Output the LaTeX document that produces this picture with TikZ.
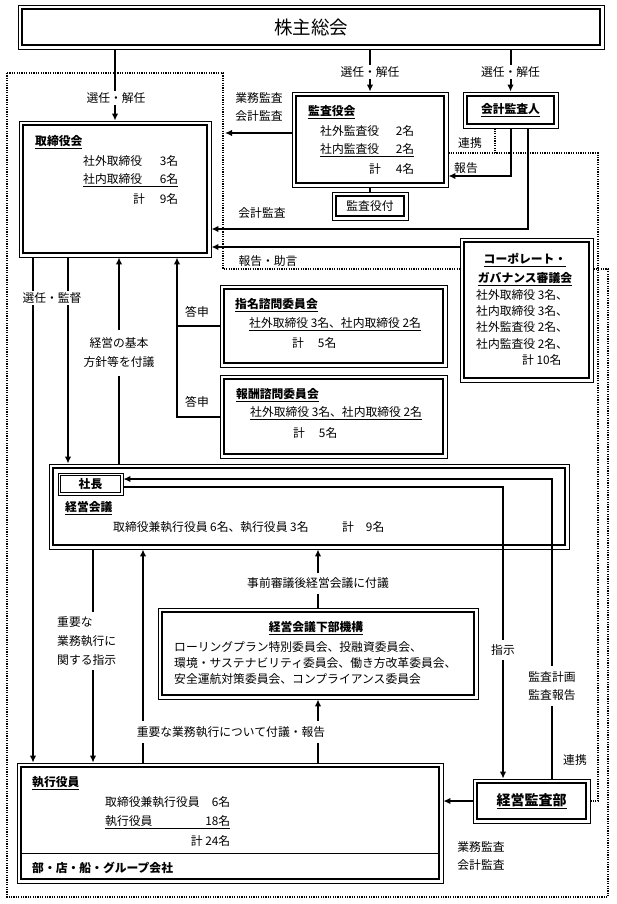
\documentclass[tikz,border=0pt]{standalone}
\usepackage{fontspec}
\setmainfont{Noto Sans CJK JP}
\usepackage{tikz}
\usetikzlibrary{arrows.meta}
\newcommand{\boxtitle}[1]{\textbf{\underline{#1}}}

\begin{document}
\begin{tikzpicture}[x=1pt, y=-1pt,
	font=\fontsize{11.8}{16}\selectfont,
	box/.style={rectangle, draw, line width=0.8pt, fill=white, inner sep=0pt},
	rim/.style={line width=2.6pt},
	ln/.style={line width=2pt},
	arr/.style={line width=2pt, -{Latex[length=7pt,width=6.5pt]}},
	dot/.style={line width=1.2pt, dash pattern=on 1.2pt off 1.2pt},
	lbl/.style={fill=white, inner sep=2pt},
	txt/.style={anchor=west, inner sep=0pt}]
			\useasboundingbox (0,0) rectangle (617,904);
			% Company frame
			\draw[dot] (7,73) -- (223,73) -- (223,269) -- (608,269) -- (608,897) -- (7,897) -- cycle;
			% Boxes
			\node[box, minimum width=586pt, minimum height=44pt, font=\fontsize{18.5}{20}\selectfont] (gm) at (311,27) {株主総会};
			\node[box, minimum width=192pt, minimum height=136pt] (board) at (115,189) {};
			\node[box, minimum width=156pt, minimum height=95pt] (kansa) at (370,139.5) {};
			\node[box, minimum width=76pt, minimum height=28pt] (kfuku) at (370,206) {監査役付};
			\node[box, minimum width=95pt, minimum height=36pt] (audit) at (510.5,110) {\boxtitle{会計監査人}};
			\node[box, minimum width=133pt, minimum height=144pt] (cg) at (526.5,310) {};
			\node[box, minimum width=227pt, minimum height=82pt] (nom) at (333.5,326) {};
			\node[box, minimum width=227pt, minimum height=83pt] (rem) at (333.5,416.5) {};
			\node[box, minimum width=520pt, minimum height=85pt] (mtg) at (309,506.5) {};
			\node[box, minimum width=65pt, minimum height=22pt] (pres) at (90.5,484) {\textbf{社長}};
			\node[box, minimum width=320pt, minimum height=91pt] (sub) at (318,653.5) {};
			\node[box, minimum width=426pt, minimum height=120pt] (exec) at (230,823) {};
			\node[box, minimum width=117pt, minimum height=44pt, font=\fontsize{14}{16}\selectfont] (iad) at (531.5,801) {\boxtitle{経営監査部}};
			\foreach \b in {gm,board,kansa,kfuku,audit,cg,nom,rem,mtg,sub,exec,iad} {
				\draw[rim] ([shift={(4.5pt,-4.5pt)}]\b.north west) rectangle ([shift={(-4.5pt,4.5pt)}]\b.south east);
			}
			\draw[line width=1.6pt] ([shift={(3pt,-3pt)}]pres.north west) rectangle ([shift={(-3pt,3pt)}]pres.south east);
			\coordinate (ydiv) at (0,853);
			\draw[line width=1pt] ([xshift=4.5pt]exec.west |- ydiv) -- ([xshift=-4.5pt]exec.east |- ydiv);
			% Box texts
			\node[txt] (bt) at (35,142) {\boxtitle{取締役会}};
			\node[txt] (br1) at (83,161) {\makebox[95pt][l]{社外取締役\hfill 3名}};
			\node[txt] (br2) at (83,180) {\underline{\makebox[95pt][l]{社内取締役\hfill 6名}}};
			\node[txt] (br3) at (83,199) {\makebox[95pt][l]{\hfill 計\hspace{15pt}9名}};
			\node[txt] (kt) at (308,112) {\boxtitle{監査役会}};
			\node[txt] (kr1) at (320,131) {\makebox[94pt][l]{社外監査役\hfill 2名}};
			\node[txt] (kr2) at (320,150) {\underline{\makebox[94pt][l]{社内監査役\hfill 2名}}};
			\node[txt] (kr3) at (320,169) {\makebox[94pt][l]{\hfill 計\hspace{15pt}4名}};
			\node (ct1) at (525,260) {\boxtitle{コーポレート・}};
			\node (ct2) at (525,279) {\boxtitle{ガバナンス審議会}};
			\node[txt, align=left, font=\fontsize{11.8}{16.3}\selectfont] (cr) at (476,327.5) {社外取締役 3名、\\社内取締役 3名、\\社外監査役 2名、\\社内監査役 2名、\\\hspace{46pt}計 10名};
			\node[txt] (nt) at (235,305) {\boxtitle{指名諮問委員会}};
			\node[txt] (nr1) at (249,324) {\underline{社外取締役 3名、社内取締役 2名}};
			\node[txt] (nr2) at (292,343) {計\hspace{14pt}5名};
			\node[txt] (rt) at (236,395) {\boxtitle{報酬諮問委員会}};
			\node[txt] (rr1) at (250,413) {\underline{社外取締役 3名、社内取締役 2名}};
			\node[txt] (rr2) at (293,433) {計\hspace{14pt}5名};
			\node[txt] (mt) at (65,508) {\boxtitle{経営会議}};
			\node[txt] (mr1) at (113,527) {取締役兼執行役員 6名、執行役員 3名};
			\node[txt] (mr2) at (342,527) {計\hspace{12pt}9名};
			\node (st) at (316,628) {\boxtitle{経営会議下部機構}};
			\node[txt, align=left] (sr) at (174,663) {ローリングプラン特別委員会、投融資委員会、\\環境・サステナビリティ委員会、働き方改革委員会、\\安全運航対策委員会、コンプライアンス委員会};
			\node[txt] (et) at (32,783) {\boxtitle{執行役員}};
			\node[txt] (er1) at (105,802) {\makebox[125pt][l]{取締役兼執行役員\hfill 6名}};
			\node[txt] (er2) at (105,822) {\underline{\makebox[125pt][l]{執行役員\hfill 18名}}};
			\node[txt] (er3) at (105,841) {\makebox[125pt][l]{\hfill 計 24名}};
			\node[txt] (eb) at (32,868) {\textbf{部・店・船・グループ会社}};
			% Helper coordinates
			\coordinate (co) at (225,133);
			\coordinate (xa) at (33,0);
			\coordinate (xb) at (68,0);
			\coordinate (xc) at (119,0);
			\coordinate (xd) at (177,0);
			\coordinate (xe) at (93,0);
			\coordinate (xf) at (143,0);
			\coordinate (xg) at (503,0);
			\coordinate (xh) at (552,0);
			\coordinate (xi) at (511,0);
			\coordinate (xj) at (528,0);
			\coordinate (xk) at (495,0);
			\coordinate (xr) at (598,0);
			\coordinate (yrep) at (0,176);
			\coordinate (yacc) at (0,229);
			\coordinate (yadv) at (0,247);
			\coordinate (ylink) at (0,153);
			\coordinate (yplan) at (0,479);
			\coordinate (yinst) at (0,487);
			% Connectors
			\draw[arr] (board.north |- gm.south) -- (board.north);
			\draw[arr] (kansa.north |- gm.south) -- (kansa.north);
			\draw[arr] (audit.north |- gm.south) -- (audit.north);
			\draw[arr] (kansa.west |- co) -- (co);
			\draw[ln] (kansa.south) -- (kfuku.north);
			\draw[arr] (xi |- audit.south) -- (xi |- yrep) -- (kansa.east |- yrep);
			\draw[arr] (xj |- audit.south) -- (xj |- yacc) -- (board.east |- yacc);
			\draw[arr] (cg.west |- yadv) -- (board.east |- yadv);
			\draw[dot] (xk |- audit.south) -- (xk |- ylink);
			\draw[dot] (kansa.east |- ylink) -| (xr |- iad.east) -- (iad.east);
			\draw[arr] (xa |- board.south) -- (xa |- exec.north);
			\draw[arr] (xb |- board.south) -- (xb |- mtg.north);
			\draw[arr] (xc |- mtg.north) -- (xc |- board.south);
			\draw[ln] (nom.west) -- (xd |- nom.west);
			\draw[arr] (rem.west) -| (xd |- board.south);
			\draw[arr] (xe |- mtg.south) -- (xe |- exec.north);
			\draw[arr] (xf |- exec.north) -- (xf |- mtg.south);
			\draw[arr] (exec.north -| sub.south) -- (sub.south);
			\draw[arr] (sub.north) -- (sub.north |- mtg.south);
			\draw[arr] (pres.east |- yinst) -| (xg |- iad.north);
			\draw[arr] (xh |- iad.north) |- (pres.east |- yplan);
			\draw[arr] (iad.west) -- (exec.east |- iad.west);
			% Labels
			\node[lbl] (l1) at (116,98) {選任・解任};
			\node[lbl] (l2) at (370,72) {選任・解任};
			\node[lbl] (l3) at (510.5,72) {選任・解任};
			\node[align=left, font=\fontsize{11.8}{18}\selectfont] (l4) at (259,107) {業務監査\\会計監査};
			\node (l5) at (470,143) {連携};
			\node (l6) at (466,168) {報告};
			\node (l7) at (262,213) {会計監査};
			\node (l8) at (268,261) {報告・助言};
			\node[lbl] (l9) at (52,298) {選任・監督};
			\node[lbl, align=center, inner ysep=8pt, font=\fontsize{11.8}{19}\selectfont] (l10) at (119,353) {経営の基本\\方針等を付議};
			\node (l11) at (197,312) {答申};
			\node (l12) at (197,402) {答申};
			\node[lbl, anchor=west, align=left, inner ysep=5pt, font=\fontsize{11.8}{19}\selectfont] (l13) at (55,641) {重要な\\業務執行に\\関する指示};
			\node[lbl, inner ysep=5pt] (l14) at (318,583) {事前審議後経営会議に付議};
			\node[lbl, inner ysep=5pt] (l15) at (231,732) {重要な業務執行について付議・報告};
			\node[lbl, inner ysep=5pt] (l16) at (503,650) {指示};
			\node[lbl, align=center, inner ysep=6pt, font=\fontsize{11.8}{18}\selectfont] (l17) at (552,686) {監査計画\\監査報告};
			\node (l18) at (575,760) {連携};
			\node[align=left, font=\fontsize{11.8}{18}\selectfont] (l19) at (481,856) {業務監査\\会計監査};
		\end{tikzpicture}
\end{document}
